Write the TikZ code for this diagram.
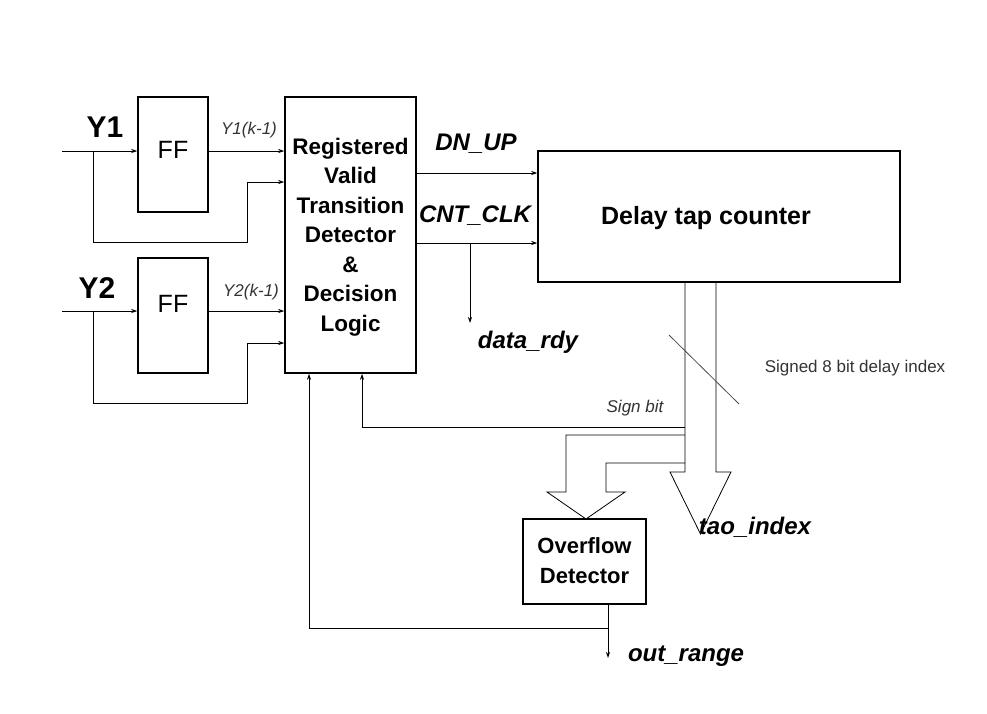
\documentclass[tikz,border=0pt]{standalone}
\usepackage{fontspec}
\setmainfont{Liberation Sans}
\usetikzlibrary{arrows.meta}
\begin{document}
\begin{tikzpicture}[x=1pt,y=-1pt,
  blk/.style={draw,line width=1.5pt,inner sep=0pt},
  ln/.style={line width=0.8pt},
  arr/.style={ln,-{Stealth[length=6pt,width=4pt]}},
  lab/.style={font=\fontsize{24}{28}\selectfont\bfseries\itshape},
  small/.style={font=\fontsize{17}{20}\selectfont\itshape,text=black!80}]
\useasboundingbox (0,0) rectangle (987,713);
\node[blk,minimum width=70pt,minimum height=115pt] (ff1) at (173,154.5) {};
\node[font=\fontsize{25}{28}\selectfont] at (173,150) {FF};
\node[blk,minimum width=70pt,minimum height=115pt] (ff2) at (173,315.5) {};
\node[font=\fontsize{25}{28}\selectfont] at (173,304) {FF};
\node[blk,minimum width=131pt,minimum height=276pt] (main) at (350.5,235) {};
\node[align=center,font=\fontsize{22.5}{29.5}\selectfont\bfseries] at (350.5,237) {Registered\\Valid\\Transition\\Detector\\\&\\Decision\\Logic};
\node[blk,minimum width=362pt,minimum height=131pt] (dly) at (719,216.5) {};
\node[font=\fontsize{25}{28}\selectfont\bfseries] at (706,218) {Delay tap counter};
\node[blk,minimum width=123pt,minimum height=85pt] (ovf) at (584.5,561.5) {};
\node[align=center,font=\fontsize{22}{30}\selectfont\bfseries] at (584.5,561) {Overflow\\Detector};
% inputs
\coordinate (y1in) at (62,151);
\coordinate (y2in) at (62,311);
\draw[arr] (y1in) -- (ff1.west|-y1in);
\draw[arr] (y2in) -- (ff2.west|-y2in);
\draw[arr] (93,151) -- (93,242) -- (247,242) -- (247,182) -- (main.west|-0,182);
\draw[arr] (93,311) -- (93,403) -- (247,403) -- (247,343) -- (main.west|-0,343);
\draw[arr] (ff1.east|-0,151) -- (main.west|-0,151);
\draw[arr] (ff2.east|-0,311) -- (main.west|-0,311);
\node[font=\fontsize{30}{32}\selectfont\bfseries] at (105,127) {Y1};
\node[font=\fontsize{30}{32}\selectfont\bfseries] at (97,288) {Y2};
\node[small] at (249,130) {Y1(k-1)};
\node[small] at (251,292) {Y2(k-1)};
% outputs
\draw[arr] (main.east|-0,173) -- (dly.west|-0,173);
\draw[arr] (main.east|-0,243) -- (dly.west|-0,243);
\draw[arr] (470,243) -- (470,323);
\node[lab] at (476,144) {DN\_UP};
\node[lab] at (475,216) {CNT\_CLK};
\node[lab] at (528,342) {data\_rdy};
% bus
\draw[ln] (685,282) -- (685,472) -- (670,472) -- (700.5,534) -- (731,472) -- (716,472) -- (716,282);
\draw[ln,black!70] (669,335) -- (739,404);
\node[font=\fontsize{17}{20}\selectfont,text=black!80] at (855,368) {Signed 8 bit delay index};
\node[lab] at (755,527) {tao\_index};
% sign bit
\draw[arr] (685,427) -- (362,427) -- (main.south-|362,0);
\node[small] at (635,408) {Sign bit};
% small bus
\draw[ln] (685,435) -- (566,435) -- (566,492) -- (547,492) -- (586,519) -- (625,492) -- (606,492) -- (606,463) -- (685,463);
% out_range
\draw[arr] (ovf.south-|608,0) -- (608,658);
\draw[arr] (608,628) -- (309,628) -- (main.south-|309,0);
\node[lab] at (686,656) {out\_range};
\end{tikzpicture}
\end{document}
